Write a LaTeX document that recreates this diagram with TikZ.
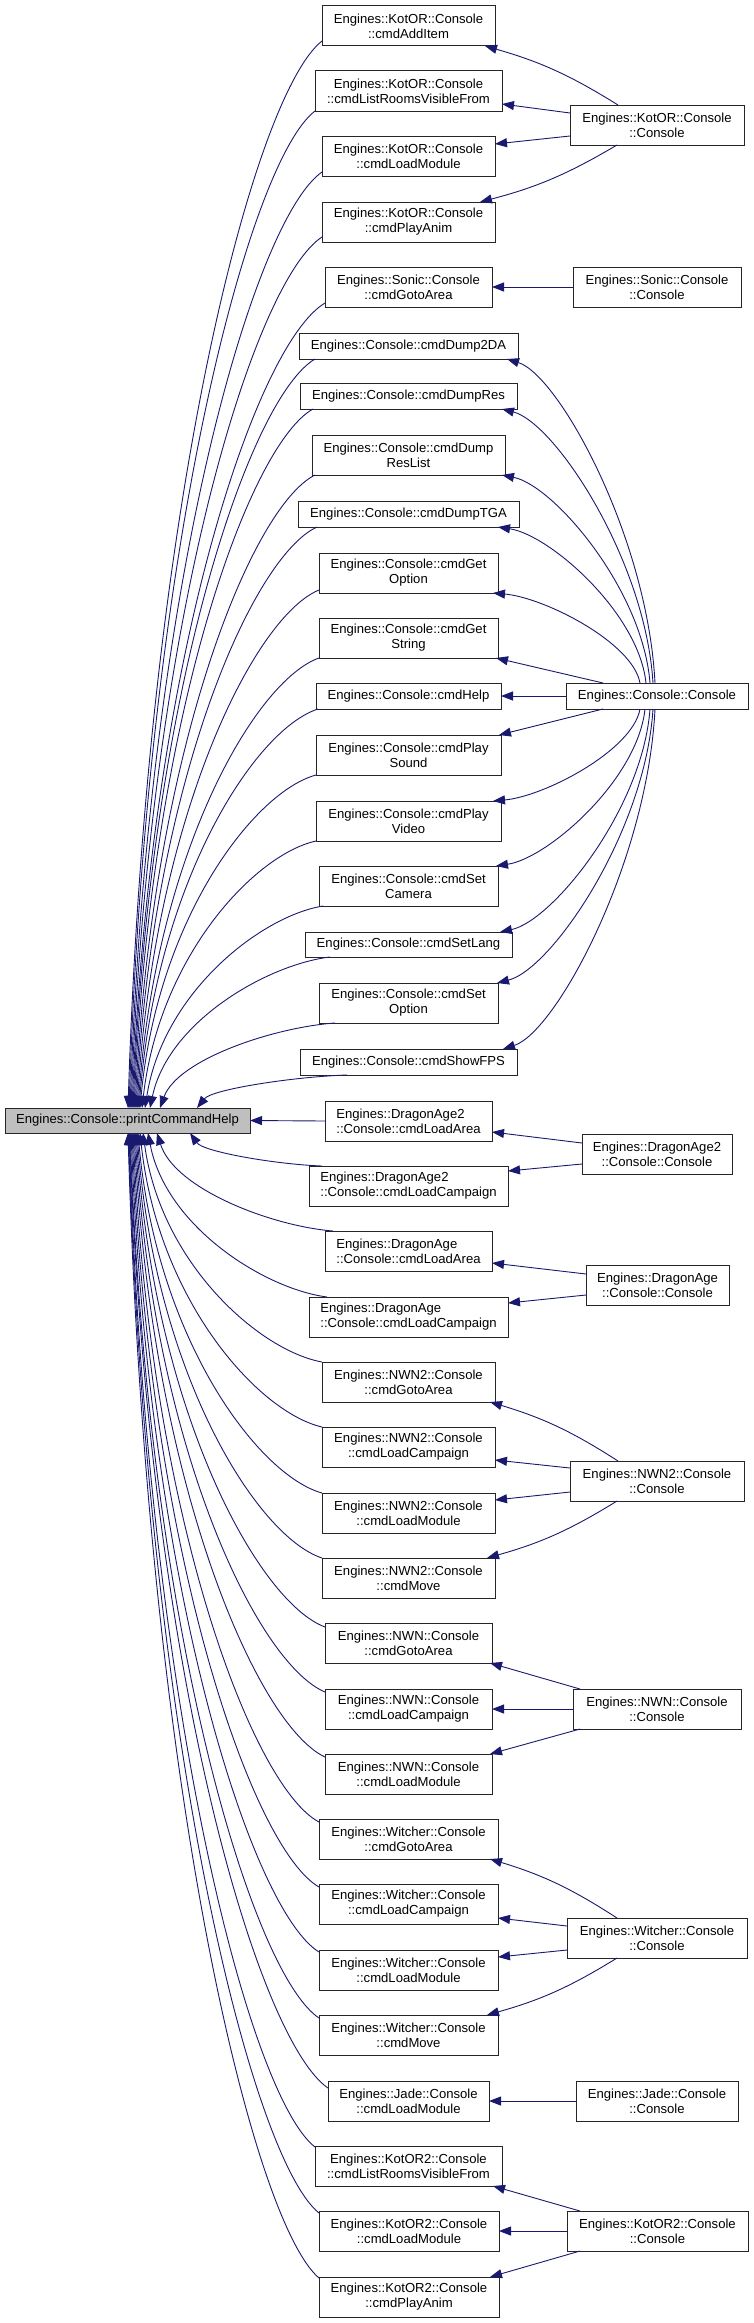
\documentclass[tikz,border=0pt]{standalone}
\usepackage{fontspec}
\setmainfont{Liberation Sans}
\usetikzlibrary{arrows.meta,calc}
\definecolor{edgecol}{RGB}{25,25,112}
\definecolor{rootfill}{RGB}{191,191,191}
\tikzset{
  box/.style={draw=black!85, line width=1pt, fill=white, inner sep=0pt, outer sep=0pt, align=center,
    font=\fontsize{13.1}{15}\selectfont},
  lbox/.style={box, align=left},
  edge/.style={draw=edgecol, line width=0.9pt, -{Triangle[length=12pt,width=9pt]}}
}
\newcommand\bx[7][box]{\node[#1, minimum width={(#5-#3)*1pt}, minimum height={(#6-#4)*1pt}] (#2) at ({(#3+#5)/2},{(#4+#6)/2}) {#7};}
\newcommand\rootfan[2]{\draw[edge] let \p1=#1, \p2=#2 in (\p1) .. controls ({\x1+0.35*(\x2-\x1)},{\y1+0.05*(\y2-\y1)}) and ({\x2-0.1*(\x2-\x1)},{\y2-0.57*(\y2-\y1)}) .. (\p2);}
\newcommand\confan[2]{\draw[edge] let \p1=#1, \p2=#2 in (\p1) .. controls ({\x1+0.05*(\x2-\x1)},{\y1+0.45*(\y2-\y1)}) and ({\x2-0.35*(\x2-\x1)},{\y2-0.05*(\y2-\y1)}) .. (\p2);}
\begin{document}
\begin{tikzpicture}[x=1pt,y=-1pt]
\useasboundingbox (0,0) rectangle (753,2323);
% root
\bx[box, fill=rootfill]{root}{5}{1108}{250}{1133}{Engines::Console::printCommandHelp}
% middle column
\bx{kAdd}{322}{6}{495}{46}{Engines::KotOR::Console\\::cmdAddItem}
\bx{kList}{315}{71}{502}{111}{Engines::KotOR::Console\\::cmdListRoomsVisibleFrom}
\bx{kLoad}{322}{136}{495}{176}{Engines::KotOR::Console\\::cmdLoadModule}
\bx{kAnim}{322}{202}{495}{242}{Engines::KotOR::Console\\::cmdPlayAnim}
\bx{sGoto}{325}{267}{492}{307}{Engines::Sonic::Console\\::cmdGotoArea}
\bx{cDumpTwoDA}{299}{333}{518}{359}{Engines::Console::cmdDump2DA}
\bx{cDumpRes}{300}{383}{517}{409}{Engines::Console::cmdDumpRes}
\bx{cDumpResList}{312}{435}{505}{475}{Engines::Console::cmdDump\\ResList}
\bx{cDumpTGA}{298}{501}{519}{527}{Engines::Console::cmdDumpTGA}
\bx{cGetOption}{319}{553}{498}{593}{Engines::Console::cmdGet\\Option}
\bx{cGetString}{319}{618}{498}{658}{Engines::Console::cmdGet\\String}
\bx{cHelp}{316}{683}{501}{709}{Engines::Console::cmdHelp}
\bx{cPlaySound}{316}{735}{501}{775}{Engines::Console::cmdPlay\\Sound}
\bx{cPlayVideo}{316}{801}{501}{841}{Engines::Console::cmdPlay\\Video}
\bx{cSetCamera}{319}{866}{498}{906}{Engines::Console::cmdSet\\Camera}
\bx{cSetLang}{305}{932}{512}{957}{Engines::Console::cmdSetLang}
\bx{cSetOption}{319}{983}{498}{1023}{Engines::Console::cmdSet\\Option}
\bx{cShowFPS}{300}{1049}{517}{1075}{Engines::Console::cmdShowFPS}
\bx[lbox]{daTwoArea}{325}{1101}{492}{1141}{Engines::DragonAge2\\::Console::cmdLoadArea}
\bx[lbox]{daTwoCamp}{309}{1166}{508}{1206}{Engines::DragonAge2\\::Console::cmdLoadCampaign}
\bx[lbox]{daArea}{325}{1231}{492}{1271}{Engines::DragonAge\\::Console::cmdLoadArea}
\bx[lbox]{daCamp}{309}{1297}{508}{1337}{Engines::DragonAge\\::Console::cmdLoadCampaign}
\bx{nTwoGoto}{322}{1362}{495}{1402}{Engines::NWN2::Console\\::cmdGotoArea}
\bx{nTwoCamp}{322}{1427}{495}{1467}{Engines::NWN2::Console\\::cmdLoadCampaign}
\bx{nTwoMod}{322}{1493}{495}{1533}{Engines::NWN2::Console\\::cmdLoadModule}
\bx{nTwoMove}{322}{1558}{495}{1598}{Engines::NWN2::Console\\::cmdMove}
\bx{nGoto}{325}{1623}{492}{1663}{Engines::NWN::Console\\::cmdGotoArea}
\bx{nCamp}{325}{1689}{492}{1729}{Engines::NWN::Console\\::cmdLoadCampaign}
\bx{nMod}{325}{1754}{492}{1794}{Engines::NWN::Console\\::cmdLoadModule}
\bx{wGoto}{319}{1819}{498}{1859}{Engines::Witcher::Console\\::cmdGotoArea}
\bx{wCamp}{319}{1884}{498}{1924}{Engines::Witcher::Console\\::cmdLoadCampaign}
\bx{wMod}{319}{1950}{498}{1990}{Engines::Witcher::Console\\::cmdLoadModule}
\bx{wMove}{319}{2015}{498}{2055}{Engines::Witcher::Console\\::cmdMove}
\bx{jMod}{328}{2081}{489}{2121}{Engines::Jade::Console\\::cmdLoadModule}
\bx{kTwoList}{315}{2146}{502}{2186}{Engines::KotOR2::Console\\::cmdListRoomsVisibleFrom}
\bx{kTwoMod}{319}{2211}{499}{2251}{Engines::KotOR2::Console\\::cmdLoadModule}
\bx{kTwoAnim}{319}{2277}{499}{2317}{Engines::KotOR2::Console\\::cmdPlayAnim}
% right column
\bx{kCon}{570}{105}{744}{145}{Engines::KotOR::Console\\::Console}
\bx{sCon}{573}{267}{741}{307}{Engines::Sonic::Console\\::Console}
\bx{cCon}{566}{683}{748}{709}{Engines::Console::Console}
\bx{daTwoCon}{582}{1134}{732}{1174}{Engines::DragonAge2\\::Console::Console}
\bx{daCon}{586}{1265}{729}{1305}{Engines::DragonAge\\::Console::Console}
\bx{nTwoCon}{570}{1461}{744}{1501}{Engines::NWN2::Console\\::Console}
\bx{nCon}{573}{1689}{741}{1729}{Engines::NWN::Console\\::Console}
\bx{wCon}{567}{1918}{747}{1958}{Engines::Witcher::Console\\::Console}
\bx{jCon}{576}{2081}{738}{2121}{Engines::Jade::Console\\::Console}
\bx{kTwoCon}{567}{2211}{748}{2251}{Engines::KotOR2::Console\\::Console}
% fan into root (upper)
\rootfan{([yshift=5pt]kAdd.south west)}{([xshift=123pt]root.north west)}
\rootfan{(kList.south west)}{([xshift=124pt]root.north west)}
\rootfan{([yshift=4pt]kLoad.south west)}{([xshift=125pt]root.north west)}
\rootfan{([yshift=5pt]kAnim.south west)}{([xshift=126pt]root.north west)}
\rootfan{([yshift=4pt]sGoto.south west)}{([xshift=127pt]root.north west)}
\rootfan{([xshift=16pt]cDumpTwoDA.south west)}{([xshift=128pt]root.north west)}
\rootfan{([xshift=13pt]cDumpRes.south west)}{([xshift=129pt]root.north west)}
\rootfan{([xshift=3pt]cDumpResList.south west)}{([xshift=130pt]root.north west)}
\rootfan{([xshift=19pt]cDumpTGA.south west)}{([xshift=131pt]root.north west)}
\rootfan{([yshift=3pt]cGetOption.south west)}{([xshift=132pt]root.north west)}
\rootfan{(cGetString.south west)}{([xshift=133pt]root.north west)}
\rootfan{([xshift=2pt]cHelp.south west)}{([xshift=134pt]root.north west)}
\rootfan{(cPlaySound.south west)}{([xshift=135pt]root.north west)}
\rootfan{(cPlayVideo.south west)}{([xshift=137pt]root.north west)}
\rootfan{([xshift=4pt]cSetCamera.south west)}{([xshift=140pt]root.north west)}
\rootfan{([xshift=25pt]cSetLang.south west)}{([xshift=145pt]root.north west)}
\rootfan{([xshift=16pt]cSetOption.south west)}{([xshift=155pt]root.north west)}
\rootfan{([xshift=47pt]cShowFPS.south west)}{([xshift=192pt]root.north west)}
\draw[edge] (daTwoArea.west) -- (root.east);
% fan into root (lower)
\rootfan{([xshift=13pt]daTwoCamp.north west)}{([xshift=185pt]root.south west)}
\rootfan{([xshift=8pt]daArea.north west)}{([xshift=152pt]root.south west)}
\rootfan{([xshift=18pt]daCamp.north west)}{([xshift=143pt]root.south west)}
\rootfan{(nTwoGoto.north west)}{([xshift=138pt]root.south west)}
\rootfan{(nTwoCamp.north west)}{([xshift=135pt]root.south west)}
\rootfan{(nTwoMod.north west)}{([xshift=133pt]root.south west)}
\rootfan{(nTwoMove.north west)}{([xshift=132pt]root.south west)}
\rootfan{([yshift=-4pt]nGoto.north west)}{([xshift=131pt]root.south west)}
\rootfan{([yshift=-3pt]nCamp.north west)}{([xshift=130pt]root.south west)}
\rootfan{([yshift=-3pt]nMod.north west)}{([xshift=129pt]root.south west)}
\rootfan{([yshift=-3pt]wGoto.north west)}{([xshift=128pt]root.south west)}
\rootfan{([yshift=-3pt]wCamp.north west)}{([xshift=127pt]root.south west)}
\rootfan{([yshift=-2pt]wMod.north west)}{([xshift=126pt]root.south west)}
\rootfan{([yshift=-3pt]wMove.north west)}{([xshift=125pt]root.south west)}
\rootfan{([yshift=-7pt]jMod.north west)}{([xshift=124.5pt]root.south west)}
\rootfan{([yshift=-1pt]kTwoList.north west)}{([xshift=124pt]root.south west)}
\rootfan{([yshift=-2pt]kTwoMod.north west)}{([xshift=123.5pt]root.south west)}
\rootfan{([yshift=-1pt]kTwoAnim.north west)}{([xshift=123pt]root.south west)}
% Engines::Console::Console fan
\confan{([xshift=89pt]cCon.north west)}{([xshift=-11pt]cDumpTwoDA.south east)}
\confan{([xshift=87pt]cCon.north west)}{([xshift=-15pt]cDumpRes.south east)}
\confan{([xshift=84pt]cCon.north west)}{([xshift=-3pt]cDumpResList.south east)}
\confan{([xshift=80pt]cCon.north west)}{([xshift=-21pt]cDumpTGA.south east)}
\confan{([xshift=74pt]cCon.north west)}{([xshift=-5pt]cGetOption.south east)}
\draw[edge] ([xshift=37pt]cCon.north west) -- ([xshift=-2pt]cGetString.south east);
\draw[edge] (cCon.west) -- (cHelp.east);
\draw[edge] ([xshift=37pt]cCon.south west) -- ([xshift=-2pt]cPlaySound.north east);
\confan{([xshift=74pt]cCon.south west)}{([xshift=-8pt]cPlayVideo.north east)}
\confan{([xshift=79pt]cCon.south west)}{([xshift=-2pt]cSetCamera.north east)}
\confan{([xshift=84pt]cCon.south west)}{([xshift=-12pt]cSetLang.north east)}
\confan{([xshift=87pt]cCon.south west)}{([xshift=-1pt]cSetOption.north east)}
\confan{([xshift=89pt]cCon.south west)}{([xshift=-14pt]cShowFPS.north east)}
% KotOR
\draw[edge] ([xshift=48pt]kCon.north west) to[bend right=8] ([xshift=-10pt]kAdd.south east);
\draw[edge] ([yshift=12pt]kCon.west) -- ([yshift=-13pt]kList.east);
\draw[edge] ([yshift=-11pt]kCon.west) -- ([yshift=12pt]kLoad.east);
\draw[edge] ([xshift=47pt]kCon.south west) to[bend left=8] ([xshift=-15pt]kAnim.north east);
% Sonic
\draw[edge] (sCon.west) -- (sGoto.east);
% DragonAge2
\draw[edge] ([yshift=11pt]daTwoCon.west) -- ([yshift=-11pt]daTwoArea.east);
\draw[edge] ([yshift=-10pt]daTwoCon.west) -- ([yshift=15pt]daTwoCamp.east);
% DragonAge
\draw[edge] ([yshift=11pt]daCon.west) -- ([yshift=-12pt]daArea.east);
\draw[edge] ([yshift=-10pt]daCon.west) -- ([yshift=14pt]daCamp.east);
% NWN2
\draw[edge] ([xshift=48pt]nTwoCon.north west) to[bend right=8] ([xshift=-5pt]nTwoGoto.south east);
\draw[edge] ([yshift=13pt]nTwoCon.west) -- ([yshift=-13pt]nTwoCamp.east);
\draw[edge] ([yshift=-11pt]nTwoCon.west) -- ([yshift=13pt]nTwoMod.east);
\draw[edge] ([xshift=47pt]nTwoCon.south west) to[bend left=8] ([xshift=-8pt]nTwoMove.north east);
% NWN
\draw[edge] ([xshift=7pt]nCon.north west) -- ([xshift=-2pt]nGoto.south east);
\draw[edge] (nCon.west) -- (nCamp.east);
\draw[edge] ([xshift=7pt]nCon.south west) -- ([xshift=-2pt]nMod.north east);
% Witcher
\draw[edge] ([xshift=50pt]wCon.north west) to[bend right=8] ([xshift=-8pt]wGoto.south east);
\draw[edge] ([yshift=12pt]wCon.west) -- ([yshift=-14pt]wCamp.east);
\draw[edge] ([yshift=-12pt]wCon.west) -- ([yshift=13pt]wMod.east);
\draw[edge] ([xshift=50pt]wCon.south west) to[bend left=8] ([xshift=-11pt]wMove.north east);
% Jade
\draw[edge] (jCon.west) -- (jMod.east);
% KotOR2
\draw[edge] ([xshift=13pt]kTwoCon.north west) -- ([xshift=-9pt]kTwoList.south east);
\draw[edge] (kTwoCon.west) -- (kTwoMod.east);
\draw[edge] ([xshift=13pt]kTwoCon.south west) -- ([xshift=-9pt]kTwoAnim.north east);
\end{tikzpicture}
\end{document}
